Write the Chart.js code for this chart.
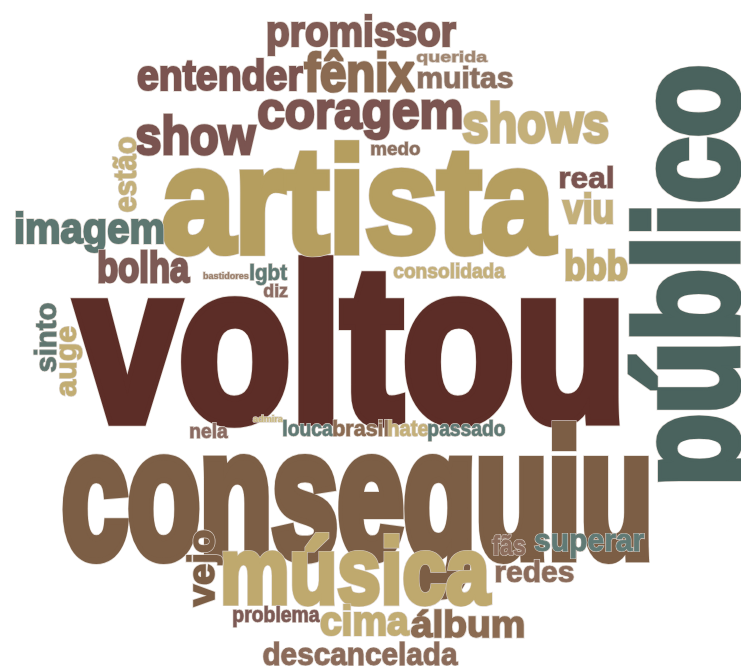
<!DOCTYPE html>
<html>
<head>
<meta charset="utf-8">
<script src="https://cdn.jsdelivr.net/npm/chart.js@4"></script>
<style>
html, body { margin: 0; padding: 0; background: #fff; }
#wrap { width: 741px; height: 668px; }
</style>
</head>
<body>
<div id="wrap"><canvas id="nuvem" width="741" height="668"></canvas></div>
<script>
// Palavras e frequências (altura do corpo da letra, em px)
const palavras = ['voltou', 'conseguiu', 'artista', 'público', 'música', 'coragem', 'show', 'entender',
  'fênix', 'promissor', 'shows', 'imagem', 'bolha', 'bbb', 'viu', 'real', 'muitas', 'querida', 'medo',
  'estão', 'vejo', 'sinto', 'auge', 'lgbt', 'bastidores', 'diz', 'consolidada', 'nela', 'admira',
  'louca', 'brasil', 'hate', 'passado', 'fãs', 'superar', 'redes', 'problema', 'cima', 'álbum', 'descancelada'];
const frequencias = [137, 114, 92, 89, 58, 32, 33, 26,
  33, 26, 34, 26, 27, 25, 25, 18, 17, 9, 11,
  19, 23, 18, 18, 13, 5, 11, 12, 12, 5,
  13, 13, 13, 13, 17, 19, 17, 13, 25, 22, 19];

// Layout da nuvem (centro / linha de base, extensão e rotação)
const posX = [346, 356, 361, 737, 358, 360, 195.5, 220,
  359, 361.5, 535, 89, 144, 596, 587.5, 586.5, 464.5, 451.5, 395.5,
  136, 214, 56, 76, 268.5, 225.5, 275, 449, 209, 268,
  308, 360.5, 408, 466.5, 508.5, 589.5, 534, 276.5, 365, 466.5, 360.5];
const posY = [420, 556, 252, 273.5, 603, 128, 154, 90,
  91, 46, 142, 243, 282, 280, 223, 188, 88, 62, 155,
  174.5, 568.5, 337.5, 362, 280, 279, 297, 278, 438, 422,
  436, 436, 436, 436, 555, 551, 582, 622, 635, 637, 665];
const extensao = [548, 588, 398, 417, 270, 204, 121, 166,
  112, 189, 146, 148, 92, 62, 51, 53, 95, 71, 49,
  75, 77, 69, 70, 37, 45, 24, 112, 38, 30,
  50, 55, 40, 77, 33, 110, 78, 87, 90, 113, 195];
const rotacao = [0, 0, 0, -90, 0, 0, 0, 0,
  0, 0, 0, 0, 0, 0, 0, 0, 0, 0, 0,
  -90, -90, -90, -90, 0, 0, 0, 0, 0, 0,
  0, 0, 0, 0, 0, 0, 0, 0, 0, 0, 0];
const cores = ['#5c2d27', '#7c5e45', '#b59e5f', '#4a635e', '#bfa96e', '#7b5450', '#7a5450', '#7b5450',
  '#8b6b52', '#805c55', '#c4b07a', '#5d7771', '#7d5a55', '#c2ad73', '#c4b07a', '#7a5450', '#8b6f5f', '#a08670', '#8b6f5f',
  '#c4b07a', '#7c5e45', '#607670', '#c2ad73', '#607a75', '#9a7e6a', '#8b6b62', '#c4b07a', '#8b6b62', '#c8b87f',
  '#607a75', '#8b6b52', '#c4b07a', '#607a75', '#8b6b5a', '#607a75', '#8b6b5a', '#7d5a55', '#c2ad73', '#8b6b52', '#8b6b5a'];

const FONTE = '"Liberation Sans Narrow", "Liberation Sans", sans-serif';
const PESO = 'bold';

const desenhaPalavras = {
    id: 'desenhaPalavras',
    afterDatasetsDraw(chart) {
        const ctx = chart.ctx;
        const meta = chart.getDatasetMeta(0);
        const xs = chart.scales.x, ys = chart.scales.y;
        const unX = Math.abs(xs.getPixelForValue(1) - xs.getPixelForValue(0));
        const unY = Math.abs(ys.getPixelForValue(1) - ys.getPixelForValue(0));

        ctx.save();
        ctx.font = `${PESO} 100px ${FONTE}`;
        const xr = ctx.measureText('x').actualBoundingBoxAscent / 100;

        meta.data.forEach((pt, i) => {
            const vertical = rotacao[i] !== 0;
            const corpo = frequencias[i] * (vertical ? unX : unY);
            const alvo = extensao[i] * (vertical ? unY : unX);
            // largura da palavra com fonte de 100px
            ctx.font = `${PESO} 100px ${FONTE}`;
            const m1 = ctx.measureText(palavras[i]);
            const w1 = (m1.actualBoundingBoxLeft + m1.actualBoundingBoxRight) / 100;
            // engrossa os traços para imitar uma fonte pesada e condensada
            const t = corpo * (corpo > 20 ? 0.07 : 0.04);
            const fs = 0.95 * corpo / (xr + t * w1 / (alvo - t));
            const w0 = fs * w1;
            const sx = (alvo - t) / w0;
            const lw = t / sx;

            ctx.save();
            ctx.font = `${PESO} ${fs}px ${FONTE}`;
            ctx.textAlign = 'left';
            ctx.textBaseline = 'alphabetic';
            const m = ctx.measureText(palavras[i]);
            ctx.translate(pt.x, pt.y);
            if (vertical) ctx.rotate(rotacao[i] * Math.PI / 180);
            ctx.scale(sx, 1);
            const x0 = -w0 / 2 + m.actualBoundingBoxLeft;
            ctx.lineJoin = 'miter';
            ctx.miterLimit = 2;
            ctx.lineWidth = lw + 1.4;
            ctx.strokeStyle = 'rgba(220,212,205,0.9)';
            ctx.strokeText(palavras[i], x0, 0);
            ctx.lineWidth = lw;
            ctx.strokeStyle = cores[i];
            ctx.strokeText(palavras[i], x0, 0);
            ctx.fillStyle = cores[i];
            ctx.fillText(palavras[i], x0, 0);
            ctx.restore();
        });
        ctx.restore();
    }
};

const ctx = document.getElementById('nuvem').getContext('2d');
const nuvem = new Chart(ctx, {
    type: 'scatter',
    data: {
        datasets: [{
            label: 'palavras',
            data: palavras.map((p, i) => ({ x: posX[i], y: posY[i] })),
            pointRadius: 0,
            pointHoverRadius: 0
        }]
    },
    options: {
        responsive: false,
        animation: false,
        devicePixelRatio: 1,
        layout: { padding: 0 },
        scales: {
            x: { type: 'linear', min: 0, max: 741, display: false },
            y: { type: 'linear', min: 0, max: 668, reverse: true, display: false }
        },
        plugins: {
            legend: { display: false },
            tooltip: { enabled: false }
        }
    },
    plugins: [desenhaPalavras]
});
</script>
</body>
</html>
